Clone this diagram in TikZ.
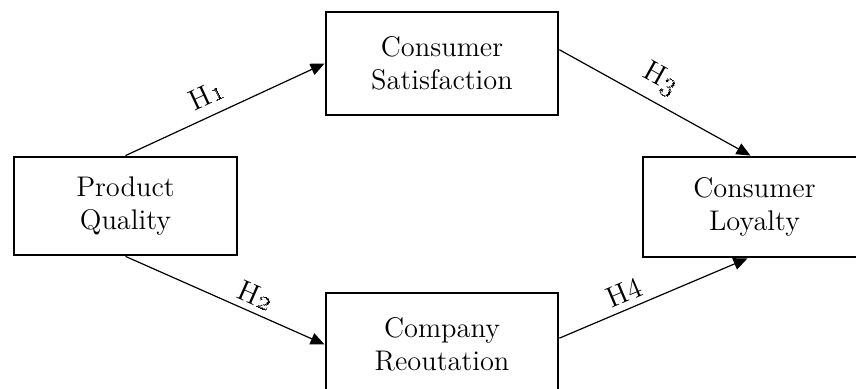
\documentclass[tikz,border=0pt]{standalone}
\usetikzlibrary{arrows.meta,calc}
\begin{document}
\begin{tikzpicture}[x=0.5pt,y=-0.5pt,
  box/.style={draw, line width=1.4pt, align=center, inner sep=0pt,
    font=\fontsize{14.2}{16.5}\selectfont},
  link/.style={line width=0.6pt, -{Triangle[length=7pt,width=6pt]}},
  hlab/.style={sloped, above, inner sep=3pt, font=\fontsize{14.5}{16}\selectfont}]
\path[use as bounding box, clip] (0,0) rectangle (856,389);
\node[box, minimum width=111.5pt, minimum height=49pt] (pq) at (125.5,206) {Product\\Quality};
\node[box, minimum width=116pt, minimum height=51.5pt] (cs) at (442,63.5) {Consumer\\Satisfaction};
\node[box, minimum width=116pt, minimum height=51.5pt] (cr) at (442,344.5) {Company\\Reoutation};
\node[box, minimum width=111.5pt, minimum height=50pt] (cl) at (754.5,207) {Consumer\\Loyalty};
\draw[link] (pq.north) -- node[hlab, pos=0.45, inner sep=5pt] {H\oldstylenums{1}} (cs.west);
\draw[link] (pq.south) -- node[hlab, pos=0.62] {H\oldstylenums{2}} (cr.west);
\draw[link] ($(cs.north east)!0.37!(cs.south east)$) -- node[hlab, pos=0.47, inner sep=5pt] {H\oldstylenums{3}} ($(cl.north)+(-4,0)$);
\draw[link] ($(cr.north east)!0.44!(cr.south east)$) -- node[hlab, pos=0.38] {H4} ($(cl.south)+(-7,0)$);
\end{tikzpicture}
\end{document}
